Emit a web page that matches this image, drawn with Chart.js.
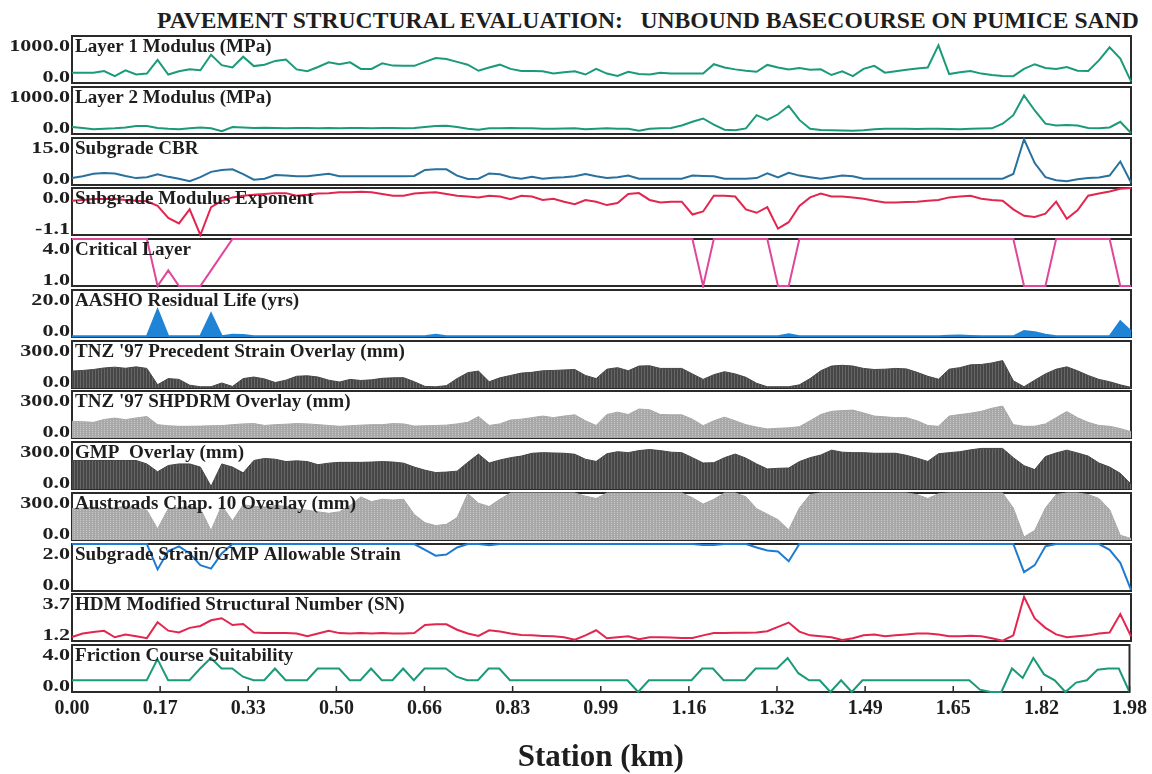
<!DOCTYPE html>
<html>
<head>
<meta charset="utf-8">
<script src="https://cdn.jsdelivr.net/npm/chart.js@4.4.1/dist/chart.umd.min.js"></script>
<style>
  html, body { margin: 0; padding: 0; background: #fff; }
  #page { position: relative; width: 1152px; height: 774px; overflow: hidden; }
  #page canvas { position: absolute; left: 0; }
  #title { position: absolute; left: 157px; top: 6px; font: bold 23.6px "Liberation Serif", serif; color: #1e1e1e; white-space: pre; line-height: 28px; }
</style>
</head>
<body>
<div id="page">
  <div id="title">PAVEMENT STRUCTURAL EVALUATION:   UNBOUND BASECOURSE ON PUMICE SAND</div>
</div>
<script>
// Station chainage (km), one reading every 20 m
const stations = [
  0.00, 0.02, 0.04, 0.06, 0.08, 0.10, 0.12, 0.14, 0.16, 0.18,
  0.20, 0.22, 0.24, 0.26, 0.28, 0.30, 0.32, 0.34, 0.36, 0.38,
  0.40, 0.42, 0.44, 0.46, 0.48, 0.50, 0.52, 0.54, 0.56, 0.58,
  0.60, 0.62, 0.64, 0.66, 0.68, 0.70, 0.72, 0.74, 0.76, 0.78,
  0.80, 0.82, 0.84, 0.86, 0.88, 0.90, 0.92, 0.94, 0.96, 0.98,
  1.00, 1.02, 1.04, 1.06, 1.08, 1.10, 1.12, 1.14, 1.16, 1.18,
  1.20, 1.22, 1.24, 1.26, 1.28, 1.30, 1.32, 1.34, 1.36, 1.38,
  1.40, 1.42, 1.44, 1.46, 1.48, 1.50, 1.52, 1.54, 1.56, 1.58,
  1.60, 1.62, 1.64, 1.66, 1.68, 1.70, 1.72, 1.74, 1.76, 1.78,
  1.80, 1.82, 1.84, 1.86, 1.88, 1.90, 1.92, 1.94, 1.96, 1.98,
];

const tickStations = [0, 0.165, 0.33, 0.495, 0.66, 0.825, 0.99, 1.155, 1.32, 1.485, 1.65, 1.815, 1.98];
const tickLabels = ["0.00", "0.17", "0.33", "0.50", "0.66", "0.83", "0.99", "1.16", "1.32", "1.49", "1.65", "1.82", "1.98"];

const panelNames = [
  "Layer 1 Modulus (MPa)",
  "Layer 2 Modulus (MPa)",
  "Subgrade CBR",
  "Subgrade Modulus Exponent",
  "Critical Layer",
  "AASHO Residual Life (yrs)",
  "TNZ '97 Precedent Strain Overlay (mm)",
  "TNZ '97 SHPDRM Overlay (mm)",
  "GMP  Overlay (mm)",
  "Austroads Chap. 10 Overlay (mm)",
  "Subgrade Strain/GMP Allowable Strain",
  "HDM Modified Structural Number (SN)",
  "Friction Course Suitability",
];
const scaleTopLabels = ["1000.0", "1000.0", "15.0", "0.0", "4.0", "20.0", "300.0", "300.0", "300.0", "300.0", "2.0", "3.7", "4.0"];
const scaleBottomLabels = ["0.0", "0.0", "0.0", "-1.1", "1.0", "0.0", "0.0", "0.0", "0.0", "0.0", "0.0", "1.2", "0.0"];

const layer1Modulus = [
  220, 220, 220, 255, 145, 270, 180, 200, 490, 180,
  250, 290, 270, 600, 380, 330, 560, 360, 390, 470,
  500, 290, 250, 340, 440, 400, 440, 300, 300, 420,
  370, 365, 365, 450, 530, 510, 450, 390, 260, 330,
  390, 300, 255, 255, 250, 200, 230, 250, 180, 300,
  200, 150, 240, 190, 180, 220, 200, 200, 200, 200,
  400, 330, 290, 260, 240, 385, 330, 290, 320, 280,
  290, 170, 250, 145, 300, 365, 220, 250, 280, 310,
  330, 800, 190, 230, 255, 200, 170, 150, 145, 300,
  400, 320, 300, 340, 260, 255, 480, 760, 520, 35,
];
const layer2Modulus = [
  150, 130, 100, 110, 120, 140, 170, 170, 130, 110,
  100, 120, 140, 120, 60, 150, 140, 130, 135, 130,
  120, 130, 130, 125, 130, 120, 130, 130, 120, 130,
  130, 125, 130, 150, 170, 175, 150, 110, 90, 120,
  120, 130, 120, 120, 110, 110, 115, 120, 100, 110,
  120, 110, 110, 70, 110, 120, 130, 180, 260, 330,
  200, 90, 80, 120, 400, 300, 420, 600, 300, 110,
  85, 80, 75, 70, 80, 100, 110, 110, 110, 105,
  110, 110, 105, 100, 110, 115, 120, 220, 400, 820,
  500, 220, 180, 190, 180, 130, 120, 140, 260, 20,
];
const subgradeCbr = [
  2.2, 2.8, 3.6, 3.8, 3.7, 2.9, 2.2, 2.5, 3.4, 2.6,
  2.0, 1.2, 2.5, 4.2, 4.8, 5.0, 3.5, 1.7, 2.0, 3.2,
  3.0, 2.8, 2.8, 3.2, 3.6, 2.8, 2.8, 2.8, 2.8, 2.8,
  2.8, 2.8, 2.9, 4.8, 5.0, 5.0, 3.0, 1.9, 2.0, 3.7,
  3.4, 2.5, 2.0, 2.6, 2.0, 2.3, 2.5, 2.8, 3.5, 2.8,
  2.2, 2.5, 3.0, 2.0, 2.0, 2.0, 2.0, 2.0, 3.0, 2.9,
  2.8, 2.0, 2.0, 2.0, 2.2, 3.7, 2.4, 3.9, 3.0, 2.5,
  2.0, 2.5, 3.0, 2.8, 2.0, 2.0, 2.0, 2.0, 2.0, 2.0,
  2.0, 2.0, 2.0, 2.0, 2.0, 2.0, 2.0, 2.0, 3.5, 14.6,
  7.0, 2.5, 1.5, 1.2, 1.8, 2.2, 2.4, 3.0, 7.5, 0.8,
];
const modulusExponent = [
  -0.30, -0.28, -0.26, -0.26, -0.26, -0.28, -0.30, -0.31, -0.42, -0.70,
  -0.83, -0.50, -1.10, -0.45, -0.30, -0.22, -0.18, -0.16, -0.14, -0.12,
  -0.12, -0.18, -0.16, -0.13, -0.12, -0.10, -0.10, -0.09, -0.10, -0.14,
  -0.18, -0.18, -0.13, -0.11, -0.10, -0.14, -0.18, -0.20, -0.22, -0.18,
  -0.20, -0.26, -0.18, -0.20, -0.28, -0.25, -0.32, -0.38, -0.28, -0.32,
  -0.40, -0.35, -0.14, -0.12, -0.28, -0.34, -0.32, -0.32, -0.62, -0.55,
  -0.18, -0.18, -0.20, -0.50, -0.58, -0.45, -0.95, -0.80, -0.42, -0.22,
  -0.13, -0.20, -0.20, -0.22, -0.25, -0.30, -0.34, -0.34, -0.33, -0.32,
  -0.30, -0.28, -0.22, -0.20, -0.18, -0.25, -0.28, -0.30, -0.50, -0.65,
  -0.68, -0.60, -0.32, -0.72, -0.52, -0.18, -0.13, -0.08, -0.02, 0.00,
];
const criticalLayer = [
  4, 4, 4, 4, 4, 4, 4, 4, 1, 2,
  1, 1, 1, 2, 3, 4, 4, 4, 4, 4,
  4, 4, 4, 4, 4, 4, 4, 4, 4, 4,
  4, 4, 4, 4, 4, 4, 4, 4, 4, 4,
  4, 4, 4, 4, 4, 4, 4, 4, 4, 4,
  4, 4, 4, 4, 4, 4, 4, 4, 4, 1,
  4, 4, 4, 4, 4, 4, 1, 1, 4, 4,
  4, 4, 4, 4, 4, 4, 4, 4, 4, 4,
  4, 4, 4, 4, 4, 4, 4, 4, 4, 1,
  1, 1, 4, 4, 4, 4, 4, 4, 1, 1,
];
const aashoResidualLife = [
  0.3, 0.3, 0.3, 0.3, 0.3, 0.3, 0.3, 0.3, 11.6, 0.3,
  0.3, 0.3, 0.3, 10.0, 0.3, 1.0, 0.8, 0.3, 0.3, 0.3,
  0.3, 0.3, 0.3, 0.3, 0.3, 0.3, 0.3, 0.3, 0.3, 0.3,
  0.3, 0.3, 0.3, 0.3, 1.0, 0.3, 0.3, 0.3, 0.3, 0.3,
  0.3, 0.3, 0.3, 0.3, 0.3, 0.3, 0.3, 0.3, 0.3, 0.3,
  0.3, 0.3, 0.3, 0.3, 0.3, 0.3, 0.3, 0.3, 0.3, 0.3,
  0.3, 0.3, 0.3, 0.3, 0.3, 0.3, 0.3, 1.2, 0.3, 0.3,
  0.3, 0.3, 0.3, 0.3, 0.3, 0.3, 0.3, 0.3, 0.3, 0.3,
  0.3, 0.3, 0.5, 0.6, 0.4, 0.3, 0.3, 0.3, 0.3, 2.5,
  2.0, 1.0, 0.3, 0.3, 0.3, 0.3, 0.3, 0.3, 6.7, 2.5,
];
const precedentOverlay = [
  108, 112, 118, 128, 133, 126, 135, 125, 21, 60,
  55, 18, 8, 8, 32, 10, 60, 70, 58, 35,
  50, 75, 78, 70, 50, 38, 55, 48, 52, 62,
  65, 66, 40, 10, 8, 15, 60, 98, 108, 40,
  65, 80, 95, 100, 110, 112, 115, 118, 80, 60,
  120, 130, 110, 140, 142, 125, 125, 125, 90, 55,
  85, 104, 90, 68, 30, 8, 8, 8, 20, 60,
  110, 140, 145, 140, 125, 118, 120, 125, 122, 100,
  75, 56, 120, 130, 148, 150, 160, 175, 46, 8,
  50, 90, 120, 135, 110, 80, 55, 40, 20, 4,
];
const shpdrmOverlay = [
  106, 104, 100, 118, 127, 117, 128, 137, 85, 78,
  75, 75, 76, 78, 79, 85, 90, 92, 80, 85,
  88, 92, 90, 85, 80, 75, 78, 82, 85, 85,
  92, 90, 76, 78, 80, 82, 90, 100, 137, 80,
  90, 115, 120, 130, 140, 130, 140, 148, 110, 80,
  150, 165, 150, 185, 180, 150, 148, 148, 120, 78,
  110, 133, 110, 85, 70, 58, 62, 65, 72, 110,
  150, 170, 175, 178, 160, 140, 135, 130, 130, 110,
  80, 75, 140, 150, 158, 170, 190, 204, 85, 75,
  75, 90, 130, 169, 130, 100, 80, 75, 60, 40,
];
const gmpOverlay = [
  182, 182, 182, 182, 182, 182, 182, 160, 110, 150,
  160, 160, 140, 17, 160, 140, 103, 182, 195, 190,
  175, 180, 175, 155, 165, 170, 170, 170, 172, 175,
  172, 165, 140, 120, 105, 108, 114, 170, 223, 166,
  185, 200, 210, 228, 232, 230, 228, 222, 190, 176,
  225, 238, 232, 245, 252, 245, 235, 232, 200, 166,
  168, 200, 223, 197, 160, 128, 132, 134, 175, 200,
  217, 248, 235, 232, 232, 228, 228, 228, 215, 197,
  176, 225, 232, 238, 250, 259, 259, 259, 200, 149,
  124, 207, 230, 248, 230, 210, 166, 140, 100, 31,
];
const austroadsOverlay = [
  200, 205, 210, 200, 205, 215, 205, 190, 71, 200,
  205, 215, 200, 61, 220, 122, 225, 215, 210, 220,
  215, 200, 190, 180, 170, 180, 220, 275, 245, 260,
  255, 260, 163, 110, 92, 100, 143, 296, 235, 214,
  260, 300, 300, 300, 300, 300, 300, 300, 280, 265,
  300, 300, 300, 300, 300, 300, 300, 300, 270, 229,
  260, 300, 300, 276, 200, 165, 130, 65, 204, 290,
  300, 300, 300, 300, 300, 300, 300, 300, 300, 290,
  265, 295, 300, 300, 300, 300, 300, 300, 204, 20,
  61, 204, 290, 300, 300, 290, 265, 194, 30, 10,
];
const strainRatio = [
  2.0, 2.0, 2.0, 2.0, 2.0, 2.0, 2.0, 2.0, 0.92, 1.7,
  1.9, 1.6, 1.1, 0.95, 1.6, 2.0, 2.0, 2.0, 2.0, 2.0,
  2.0, 2.0, 2.0, 2.0, 2.0, 2.0, 2.0, 2.0, 2.0, 2.0,
  2.0, 2.0, 2.0, 1.75, 1.5, 1.55, 1.85, 2.0, 2.0, 1.95,
  2.0, 2.0, 2.0, 2.0, 2.0, 2.0, 2.0, 2.0, 2.0, 2.0,
  2.0, 2.0, 2.0, 2.0, 2.0, 2.0, 2.0, 2.0, 2.0, 1.96,
  1.96, 2.0, 2.0, 2.0, 1.85, 1.72, 1.68, 1.27, 2.0, 2.0,
  2.0, 2.0, 2.0, 2.0, 2.0, 2.0, 2.0, 2.0, 2.0, 2.0,
  2.0, 2.0, 2.0, 2.0, 2.0, 2.0, 2.0, 2.0, 2.0, 0.8,
  1.1, 1.9, 2.0, 2.0, 2.0, 2.0, 2.0, 1.75, 1.2, 0.05,
];
const structuralNumber = [
  1.41, 1.60, 1.68, 1.74, 1.40, 1.55, 1.45, 1.35, 2.20, 1.75,
  1.65, 1.90, 2.00, 2.30, 2.41, 2.05, 2.10, 1.65, 1.62, 1.63,
  1.62, 1.60, 1.45, 1.60, 1.74, 1.62, 1.60, 1.62, 1.60, 1.62,
  1.60, 1.60, 1.62, 2.05, 2.09, 2.09, 1.80, 1.60, 1.47, 1.77,
  1.70, 1.60, 1.52, 1.50, 1.47, 1.45, 1.40, 1.27, 1.50, 1.77,
  1.35, 1.40, 1.45, 1.30, 1.40, 1.40, 1.38, 1.36, 1.36, 1.50,
  1.62, 1.62, 1.64, 1.64, 1.65, 1.72, 1.95, 2.18, 1.70, 1.50,
  1.45, 1.40, 1.26, 1.35, 1.50, 1.55, 1.45, 1.50, 1.55, 1.60,
  1.60, 1.55, 1.45, 1.45, 1.48, 1.45, 1.35, 1.22, 1.50, 3.55,
  2.40, 1.90, 1.55, 1.40, 1.45, 1.50, 1.60, 1.65, 2.63, 1.45,
];
const frictionSuitability = [
  1, 1, 1, 1, 1, 1, 1, 1, 2.8, 1,
  1, 1, 2, 2.9, 2, 2, 1.3, 1, 1, 2,
  1, 1, 1, 2, 2, 2, 1, 1, 2, 1,
  1, 2, 1, 2, 2, 2, 1.3, 1, 1, 2,
  2, 1, 1, 1, 1, 1, 1, 1, 1, 1,
  1, 1, 1, 0, 1, 1, 1, 1, 1, 2,
  2, 1, 1, 1, 2, 2, 2, 2.9, 1.6, 1,
  1, 0, 1, 0, 1, 1, 1, 1, 1, 1,
  1, 1, 1, 1, 1, 0.2, 0, 0, 2, 1.2,
  2.9, 1.5, 1, 0, 0.8, 1, 1.9, 2, 2, 0,
];

const seriesValues = [
  layer1Modulus, layer2Modulus, subgradeCbr, modulusExponent, criticalLayer,
  aashoResidualLife, precedentOverlay, shpdrmOverlay, gmpOverlay, austroadsOverlay,
  strainRatio, structuralNumber, frictionSuitability,
];

// Layout of the strip panels
const PLOT_LEFT = 72;
const PLOT_RIGHT = 1131;
const PANEL_TOP = 36;
const PANEL_PITCH = 50.75;
const PANEL_H = 47;
const PAD = 3;
const AXIS_H = 82;
const INK = "#1e1e1e";
const SERIF = '"Liberation Serif", "Times New Roman", serif';

// Textured fills like the old plotter shading
function hatch(base, streak, dotted) {
  const tile = document.createElement("canvas");
  tile.width = 3;
  tile.height = 2;
  const g = tile.getContext("2d");
  g.fillStyle = base;
  g.fillRect(0, 0, 3, 2);
  g.fillStyle = streak;
  g.fillRect(2, 0, 1, dotted ? 1 : 2);
  return g.createPattern(tile, "repeat");
}
const darkFill = hatch("#464646", "#676767", false);
const lightFill = hatch("#a8a8a8", "#c9c9c9", true);

const GREEN = "#1b9a7a";
const RED = "#e2264f";
const panelStyles = [
  { color: GREEN },
  { color: GREEN },
  { color: "#28709e" },
  { color: RED },
  { color: "#e0479a" },
  { color: "#1f84d6", fill: "#1f84d6" },
  { color: "#464646", fill: darkFill },
  { color: "#a8a8a8", fill: lightFill },
  { color: "#464646", fill: darkFill },
  { color: "#a8a8a8", fill: lightFill },
  { color: "#1f7bd0" },
  { color: RED },
  { color: GREEN },
];

// Draws text stretched horizontally
function wideText(ctx, text, x, y, sx) {
  ctx.save();
  ctx.translate(x, y);
  ctx.scale(sx, 1);
  ctx.fillText(text, 0, 0);
  ctx.restore();
}

// Frame, end-of-scale values, panel name and inner tick marks
const panelDecor = {
  id: "panelDecor",
  beforeDatasetsDraw(chart) {
    const { ctx, chartArea: a } = chart;
    ctx.save();
    ctx.strokeStyle = "#2a2a2a";
    ctx.lineWidth = 2;
    ctx.strokeRect(a.left, a.top, a.right - a.left, a.bottom - a.top);
    ctx.restore();
  },
  afterDraw(chart, args, opts) {
    const { ctx, chartArea: a } = chart;
    ctx.save();
    ctx.fillStyle = INK;
    ctx.textBaseline = "middle";
    ctx.textAlign = "right";
    ctx.font = "bold 17px " + SERIF;
    wideText(ctx, opts.topLabel, a.left - 2, a.top + 11, 1.3);
    wideText(ctx, opts.bottomLabel, a.left - 2, a.bottom - 5, 1.3);
    ctx.textAlign = "left";
    ctx.font = "bold 18px " + SERIF;
    wideText(ctx, opts.name, a.left + 3, a.top + 11, 1.06);
    if (opts.innerTicks) {
      const xs = chart.scales.x;
      ctx.strokeStyle = "#2a2a2a";
      ctx.lineWidth = 1.5;
      ctx.beginPath();
      tickStations.forEach((s) => {
        const px = xs.getPixelForValue(s);
        ctx.moveTo(px, a.bottom - 6);
        ctx.lineTo(px, a.bottom);
      });
      ctx.stroke();
    }
    ctx.restore();
  },
};

const page = document.getElementById("page");

seriesValues.forEach((values, k) => {
  const isLast = k === seriesValues.length - 1;
  const top = Math.round(PANEL_TOP + k * PANEL_PITCH);
  const canvasTop = top - PAD;
  const height = isLast ? 774 - canvasTop : PANEL_H + 2 * PAD;

  const canvas = document.createElement("canvas");
  canvas.width = 1152;
  canvas.height = height;
  canvas.style.top = canvasTop + "px";
  page.appendChild(canvas);

  const style = panelStyles[k];
  const filled = !!style.fill;

  const xScale = {
    type: "linear",
    min: 0,
    max: 1.98,
    display: isLast,
    afterBuildTicks: (s) => { s.ticks = tickStations.map((v) => ({ value: v })); },
    grid: { display: false, drawTicks: false },
    border: { display: false },
    ticks: {
      autoSkip: false,
      maxRotation: 0,
      padding: 5,
      color: INK,
      font: { family: SERIF, size: 20, weight: "bold" },
      callback: (v, i) => tickLabels[i],
    },
    title: {
      display: true,
      text: "Station (km)",
      color: INK,
      font: { family: SERIF, size: 31, weight: "bold", lineHeight: 1 },
      padding: { top: 0, bottom: 1 },
    },
  };
  // only the bottom strip carries the station axis
  if (isLast) xScale.afterFit = (s) => { s.height = AXIS_H; };

  new Chart(canvas.getContext("2d"), {
    type: "line",
    data: {
      datasets: [
        {
          data: stations.map((s, i) => ({ x: s, y: values[i] })),
          borderColor: style.color,
          backgroundColor: filled ? style.fill : style.color,
          borderWidth: filled && k !== 5 ? 1 : 2,
          fill: filled ? "origin" : false,
          pointRadius: 0,
          tension: 0,
          // let traces lying on the frame draw over it
          clip: 2,
        },
      ],
    },
    options: {
      responsive: false,
      animation: false,
      events: [],
      layout: { padding: { top: PAD, bottom: isLast ? 0 : PAD, left: 0, right: 1152 - PLOT_RIGHT } },
      plugins: {
        legend: { display: false },
        tooltip: { enabled: false },
        panelDecor: {
          name: panelNames[k],
          topLabel: scaleTopLabels[k],
          bottomLabel: scaleBottomLabels[k],
          innerTicks: isLast,
        },
      },
      scales: {
        x: xScale,
        y: {
          min: parseFloat(scaleBottomLabels[k]),
          max: parseFloat(scaleTopLabels[k]),
          afterFit: (s) => { s.width = PLOT_LEFT; },
          ticks: { display: false },
          grid: { display: false },
          border: { display: false },
        },
      },
    },
    plugins: [panelDecor],
  });
});
</script>
</body>
</html>
